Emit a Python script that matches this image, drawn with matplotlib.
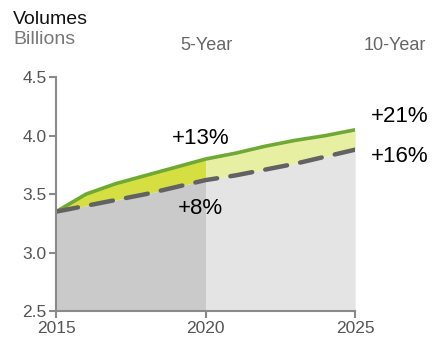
import numpy as np
import matplotlib
matplotlib.use('Agg')
import matplotlib.pyplot as plt

plt.rcParams['font.family'] = ['Liberation Sans', 'DejaVu Sans']

years = [2015, 2016, 2017, 2018, 2019, 2020, 2021, 2022, 2023, 2024, 2025]
high = [3.35, 3.50, 3.59, 3.66, 3.73, 3.80, 3.85, 3.91, 3.96, 4.00, 4.05]
base = [3.35, 3.40, 3.45, 3.50, 3.56, 3.62, 3.66, 3.71, 3.76, 3.82, 3.88]
xticks = [2015, 2020, 2025]
yticks = [2.5, 3.0, 3.5, 4.0, 4.5]

x = np.array(years)
hi = np.array(high)
lo = np.array(base)
first = x <= 2020
second = x >= 2020

fig = plt.figure(figsize=(4.32, 3.37), dpi=100)
ax = fig.add_axes([0.13, 0.077, 0.692, 0.694])

# grey area under the base line
ax.fill_between(x[first], 2.5, lo[first], color='#cacaca', lw=0)
ax.fill_between(x[second], 2.5, lo[second], color='#e4e4e4', lw=0)
# band between base and high
ax.fill_between(x[first], lo[first], hi[first], color='#d5df42', lw=0)
ax.fill_between(x[second], lo[second], hi[second], color='#e7f0a2', lw=0)

ax.plot(x, hi, color='#6ea935', lw=2.6, solid_capstyle='butt')
ax.plot(x, lo, color='#626262', lw=3.2, dashes=(5, 3), dash_capstyle='round')

ax.set_xlim(2015, 2025)
ax.set_ylim(2.5, 4.5)
ax.set_xticks(xticks)
ax.set_yticks(yticks)
ax.set_yticklabels(['%.1f' % v for v in yticks])

for s in ['top', 'right']:
    ax.spines[s].set_visible(False)
for s in ['left', 'bottom']:
    ax.spines[s].set_color('#8a8a8a')
    ax.spines[s].set_linewidth(1.5)
ax.tick_params(colors='#8a8a8a', labelcolor='#555555', labelsize=12.5,
               length=5, width=1.5, direction='out', pad=2)

fig.text(0.03, 1 - 20 / 337, 'Volumes', fontsize=14, color='#111111', va='center')
fig.text(0.03, 1 - 40 / 337, 'Billions', fontsize=14, color='#777777', va='center')
fig.text(206 / 432, 1 - 45 / 337, '5-Year', fontsize=13, color='#666666', ha='center', va='center')
fig.text(394.5 / 432, 1 - 45 / 337, '10-Year', fontsize=13, color='#666666', ha='center', va='center')

fig.text(201 / 432, 1 - 139 / 337, '+13%', fontsize=16, ha='center', va='center')
fig.text(200 / 432, 1 - 208 / 337, '+8%', fontsize=16, ha='center', va='center')
fig.text(400 / 432, 1 - 116 / 337, '+21%', fontsize=16, ha='center', va='center')
fig.text(400 / 432, 1 - 156 / 337, '+16%', fontsize=16, ha='center', va='center')

fig.savefig('out.png', dpi=100)
